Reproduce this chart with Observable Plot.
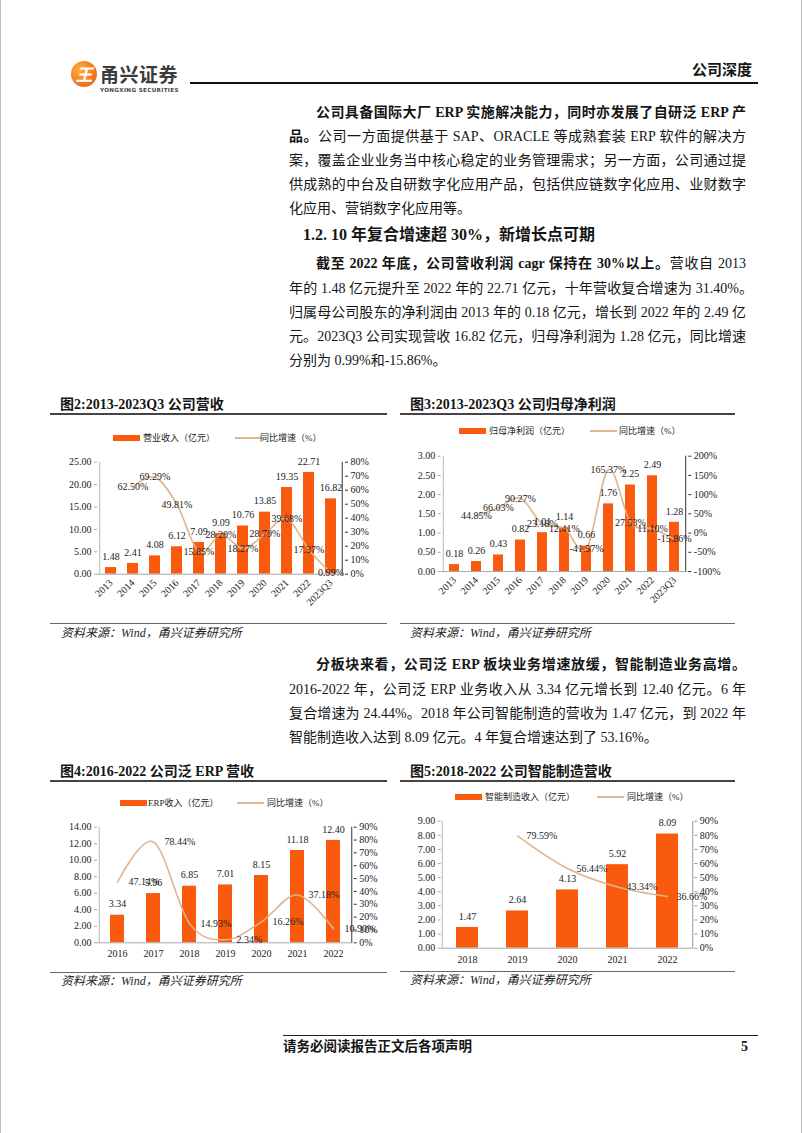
<!DOCTYPE html>
<html><head><meta charset="utf-8">
<script src="https://cdn.jsdelivr.net/npm/d3@7"></script>
<script src="https://cdn.jsdelivr.net/npm/@observablehq/plot@0.6"></script>
<style>
html,body{margin:0;padding:0;background:#fff;}
#page{position:relative;width:802px;height:1133px;overflow:hidden;background:#fff;
  font-family:"Liberation Serif","Times New Roman","Noto Sans CJK SC",serif;color:#151515;}
.a{position:absolute;white-space:nowrap;}
.ln{position:absolute;white-space:nowrap;font-size:14px;line-height:24px;height:24px;}
.j{text-align:justify;text-align-last:justify;white-space:normal;overflow:hidden;}
.ttl{position:absolute;font-size:14px;font-weight:bold;white-space:nowrap;line-height:16px;}
.hr{position:absolute;background:#333;}
.src{position:absolute;font-size:12px;font-style:italic;white-space:nowrap;line-height:14px;color:#222;}
.leg{position:absolute;font-size:9px;line-height:10px;white-space:nowrap;color:#222;}
.chart{position:absolute;}
</style></head>
<body><div id="page"></div>
<script>
// ---------------- data ----------------
const revYears = ["2013","2014","2015","2016","2017","2018","2019","2020","2021","2022","2023Q3"];
const revenue = [1.48,2.41,4.08,6.12,7.09,9.09,10.76,13.85,19.35,22.71,16.82];
const revGrowthYears = ["2014","2015","2016","2017","2018","2019","2020","2021","2022","2023Q3"];
const revGrowth = [62.50,69.29,49.81,15.85,28.20,18.27,28.79,39.68,17.37,0.99];
const revLeftTicks = [0,5,10,15,20,25];
const revRightTicks = [0,10,20,30,40,50,60,70,80];

const profitYears = ["2013","2014","2015","2016","2017","2018","2019","2020","2021","2022","2023Q3"];
const netProfit = [0.18,0.26,0.43,0.82,1.01,1.14,0.66,1.76,2.25,2.49,1.28];
const profitGrowthYears = ["2014","2015","2016","2017","2018","2019","2020","2021","2022","2023Q3"];
const profitGrowth = [44.85,66.03,90.27,23.18,12.41,-41.57,165.37,27.53,11.10,-15.86];
const profitLeftTicks = [0,0.5,1,1.5,2,2.5,3];
const profitRightTicks = [-100,-50,0,50,100,150,200];

const erpYears = ["2016","2017","2018","2019","2020","2021","2022"];
const erpRevenue = [3.34,5.96,6.85,7.01,8.15,11.18,12.40];
const erpGrowth = [47.14,78.44,14.93,2.34,16.26,37.18,10.90];
const erpLeftTicks = [0,2,4,6,8,10,12,14];
const erpRightTicks = [0,10,20,30,40,50,60,70,80,90];

const mfgYears = ["2018","2019","2020","2021","2022"];
const mfgRevenue = [1.47,2.64,4.13,5.92,8.09];
const mfgGrowthYears = ["2019","2020","2021","2022"];
const mfgGrowth = [79.59,56.44,43.34,36.66];
const mfgLeftTicks = [0,1,2,3,4,5,6,7,8,9];
const mfgRightTicks = [0,10,20,30,40,50,60,70,80,90];

const ORANGE = "#F95A0D";
const TAN = "#DDB68F";
const FONT = '"Liberation Serif","Times New Roman","Noto Sans CJK SC",serif';

// ---------------- page text ----------------
const para1 = [
  {x:316,w:430,y:113,j:true,h:'<b>公司具备国际大厂 ERP 实施解决能力，同时亦发展了自研泛 ERP 产</b>'},
  {x:289,w:457,y:137,j:true,h:'<b>品。</b>公司一方面提供基于 SAP、ORACLE 等成熟套装 ERP 软件的解决方'},
  {x:289,w:457,y:161,j:true,h:'案，覆盖企业业务当中核心稳定的业务管理需求；另一方面，公司通过提'},
  {x:289,w:457,y:185,j:true,h:'供成熟的中台及自研数字化应用产品，包括供应链数字化应用、业财数字'},
  {x:289,w:457,y:209,j:false,h:'化应用、营销数字化应用等。'}
];
const para2 = [
  {x:316,w:430,y:264,j:true,h:'<b>截至 2022 年底，公司营收利润 cagr 保持在 30%以上。</b>营收自 2013'},
  {x:289,w:464,y:289,j:true,h:'年的 1.48 亿元提升至 2022 年的 22.71 亿元，十年营收复合增速为 31.40%。'},
  {x:289,w:457,y:313,j:true,h:'归属母公司股东的净利润由 2013 年的 0.18 亿元，增长到 2022 年的 2.49 亿'},
  {x:289,w:457,y:337,j:true,h:'元。2023Q3 公司实现营收 16.82 亿元，归母净利润为 1.28 亿元，同比增速'},
  {x:289,w:457,y:361,j:false,h:'分别为 0.99%和-15.86%。'}
];
const para3 = [
  {x:316,w:430,y:665,j:true,h:'<b>分板块来看，公司泛 ERP 板块业务增速放缓，智能制造业务高增。</b>'},
  {x:289,w:457,y:690,j:true,h:'2016-2022 年，公司泛 ERP 业务收入从 3.34 亿元增长到 12.40 亿元。6 年'},
  {x:289,w:457,y:714,j:true,h:'复合增速为 24.44%。2018 年公司智能制造的营收为 1.47 亿元，到 2022 年'},
  {x:289,w:457,y:738,j:false,h:'智能制造收入达到 8.09 亿元。4 年复合增速达到了 53.16%。'}
];

const page = document.getElementById("page");
function el(tag, cls, style, html){
  const e = document.createElement(tag);
  if (cls) e.className = cls;
  Object.assign(e.style, style||{});
  if (html!=null) e.innerHTML = html;
  page.appendChild(e);
  return e;
}
function px(v){return v+"px";}

// page borders
el("div","a",{left:"0px",top:"0px",width:"1px",height:"1133px",background:"#bdbdbd"});
el("div","a",{left:"801px",top:"0px",width:"1px",height:"1133px",background:"#bdbdbd"});

// header logo
el("div","a",{left:"71px",top:"61px",width:"26px",height:"26px",borderRadius:"50%",
  background:"radial-gradient(circle at 35% 35%, #FBB040 0%, #F47B20 55%, #E4571B 100%)"});
el("div","a",{left:"71px",top:"61px",width:"26px",height:"26px",lineHeight:"26px",textAlign:"center",
  color:"#fff",fontWeight:"bold",fontSize:"17px",fontStyle:"italic",
  fontFamily:'"Noto Sans CJK SC",sans-serif'},"王");
el("div","a",{left:"100px",top:"62px",fontSize:"19px",lineHeight:"24px",fontWeight:"bold",color:"#3b3b3b",
  fontFamily:'"Noto Sans CJK SC",sans-serif',letterSpacing:"0.5px"},"甬兴证券");
el("div","a",{left:"100px",top:"87px",fontSize:"5.6px",lineHeight:"7px",fontWeight:"bold",color:"#444",
  fontFamily:'"DejaVu Sans",sans-serif',letterSpacing:"0.35px"},"YONGXING SECURITIES");
el("div","hr",{left:"190px",top:"82px",width:"568px",height:"2px",background:"#111"});
el("div","a",{left:"692px",top:"61px",fontSize:"15px",lineHeight:"18px",fontWeight:"bold"},"公司深度");

// paragraphs
function drawLines(lines){
  for (const l of lines){
    el("div","ln"+(l.j?" j":""),{left:px(l.x),top:px(l.y-12),width:px(l.w)},l.h);
  }
}
drawLines(para1);
el("div","a",{left:"303px",top:"225px",fontSize:"16px",lineHeight:"20px",fontWeight:"bold"},"1.2. 10 年复合增速超 30%，新增长点可期");
drawLines(para2);
drawLines(para3);

// footer
el("div","hr",{left:"283px",top:"1035px",width:"475px",height:"1.3px",background:"#222"});
el("div","a",{left:"283px",top:"1039px",fontSize:"13.5px",lineHeight:"16px",fontWeight:"bold"},"请务必阅读报告正文后各项声明");
el("div","a",{left:"741px",top:"1039px",fontSize:"14px",lineHeight:"16px",fontWeight:"bold"},"5");

// ---------------- chart frame pieces ----------------
function frame(o){
  el("div","ttl",{left:px(o.tx),top:px(o.ty-8)},o.title);
  el("div","hr",{left:px(o.x0),top:px(o.ly),width:px(o.x1-o.x0),height:"1.5px",background:"#444"});
  el("div","hr",{left:px(o.x0),top:px(o.by),width:px(o.x1-o.x0),height:"1px",background:"#666"});
  el("div","src",{left:px(o.sx),top:px(o.sy-7)},"资料来源：Wind，甬兴证券研究所");
}
function legend(o){
  el("div","a",{left:px(o.rx),top:px(o.cy-3),width:"27px",height:"6px",background:ORANGE});
  el("div","leg",{left:px(o.tx),top:px(o.cy-5)},o.t1);
  el("div","a",{left:px(o.lx),top:px(o.cy-0.75),width:"27px",height:"1.5px",background:TAN});
  el("div","leg",{left:px(o.ltx),top:px(o.cy-5)},o.t2);
}

function dual(o){
  const n = o.cats.length;
  const pw = o.width - o.ml - o.mr;
  const half = pw / n / 2;
  const yMax = o.leftTicks[o.leftTicks.length-1];
  const rMin = o.rightTicks[0], rMax = o.rightTicks[o.rightTicks.length-1];
  const toL = p => (p - rMin) / (rMax - rMin) * yMax;
  const fromL = v => v / yMax * (rMax - rMin) + rMin;
  const bars = o.cats.map((c,i)=>({c, v:o.values[i]}));
  const line = o.lineCats.map((c,i)=>({c, g:o.growth[i]}));
  return Plot.plot({
    width:o.width, height:o.height,
    marginLeft:o.ml, marginRight:o.mr, marginTop:o.mt, marginBottom:o.mb,
    style:{fontFamily:FONT, fontSize:"10px", color:"#222", background:"transparent", overflow:"visible"},
    x:{type:"band", domain:o.cats, paddingInner:o.pad, paddingOuter:o.pad/2},
    y:{domain:[0,yMax]},
    marks:[
      Plot.barY(bars,{x:"c",y:"v",fill:ORANGE}),
      Plot.ruleY([0],{stroke:"#a8a8a8"}),
      Plot.ruleX([o.cats[0]],{y1:0,y2:yMax,dx:-half,stroke:"#b8b8b8"}),
      Plot.ruleX([o.cats[n-1]],{y1:0,y2:yMax,dx:half,stroke:o.rightColor||"#333"}),
      Plot.axisY({anchor:"left", ticks:o.leftTicks, tickSize:3, tickPadding:3, stroke:"#aaa", fill:"#222",
        tickFormat:d=>d.toFixed(2), label:null}),
      Plot.axisY({anchor:"right", ticks:o.rightTicks.map(toL), tickSize:3, tickPadding:3,
        stroke:o.rightColor||"#333", fill:"#222", tickFormat:v=>Math.round(fromL(v))+"%", label:null}),
      Plot.axisX({tickSize:0, tickPadding:o.xPad, tickRotate:o.rotate||0, label:null, fill:"#222"}),
      Plot.line(line,{x:"c",y:d=>toL(d.g),stroke:TAN,strokeWidth:1.6,curve:"cardinal"}),
      Plot.text(bars,{x:"c",y:"v",text:d=>d.v.toFixed(2),dy:-11,fill:"#222"}),
      Plot.text(line,{x:"c",y:d=>toL(d.g),text:d=>d.g.toFixed(2)+"%",dx:o.ldx,textAnchor:o.lanchor,fill:"#222"})
    ]
  });
}
function place(svg, left, top){
  const d = el("div","chart",{left:px(left),top:px(top)});
  d.appendChild(svg);
}

// Chart 2
frame({title:"图2:2013-2023Q3 公司营收",tx:60,ty:405,x0:50,x1:387,ly:413,by:623,sx:61,sy:633});
legend({rx:113,tx:143,lx:235,ltx:260,cy:438,t1:"营业收入（亿元）",t2:"同比增速（%）"});
place(dual({cats:revYears,values:revenue,lineCats:revGrowthYears,growth:revGrowth,
  leftTicks:revLeftTicks,rightTicks:revRightTicks,width:350,height:170,ml:57,mr:46,mt:11.7,mb:46.3,
  pad:0.52,xPad:7,rotate:-45,ldx:0,lanchor:"middle"}),40,450);

// Chart 3
frame({title:"图3:2013-2023Q3 公司归母净利润",tx:410,ty:405,x0:400,x1:735,ly:413,by:623,sx:410,sy:633});
legend({rx:459,tx:489,lx:590,ltx:619,cy:431,t1:"归母净利润（亿元）",t2:"同比增速（%）"});
place(dual({cats:profitYears,values:netProfit,lineCats:profitGrowthYears,growth:profitGrowth,
  leftTicks:profitLeftTicks,rightTicks:profitRightTicks,width:340,height:175,ml:40.7,mr:52.7,mt:10.7,mb:49,
  pad:0.55,xPad:7,rotate:-45,ldx:0,lanchor:"middle"}),400,445);

// Chart 4
frame({title:"图4:2016-2022 公司泛 ERP 营收",tx:60,ty:772,x0:50,x1:387,ly:780,by:972,sx:61,sy:981});
legend({rx:120,tx:148,lx:237,ltx:267,cy:803,t1:"ERP收入（亿元）",t2:"同比增速（%）"});
place(dual({cats:erpYears,values:erpRevenue,lineCats:erpYears,growth:erpGrowth,
  leftTicks:erpLeftTicks,rightTicks:erpRightTicks,width:350,height:155,ml:57,mr:37.3,mt:11.7,mb:27.7,
  pad:0.61,xPad:7,rotate:0,ldx:11,lanchor:"start"}),40,815);

// Chart 5
frame({title:"图5:2018-2022 公司智能制造营收",tx:410,ty:772,x0:400,x1:735,ly:780,by:971,sx:410,sy:980});
legend({rx:455,tx:485,lx:597,ltx:627,cy:797,t1:"智能制造收入（亿元）",t2:"同比增速（%）"});
place(dual({cats:mfgYears,values:mfgRevenue,lineCats:mfgGrowthYears,growth:mfgGrowth,
  leftTicks:mfgLeftTicks,rightTicks:mfgRightTicks,width:340,height:165,ml:40.7,mr:46.7,mt:10.7,mb:27.3,
  pad:0.57,xPad:8,rotate:0,ldx:9,lanchor:"start",rightColor:"#999"}),400,810);
</script>
</body></html>
